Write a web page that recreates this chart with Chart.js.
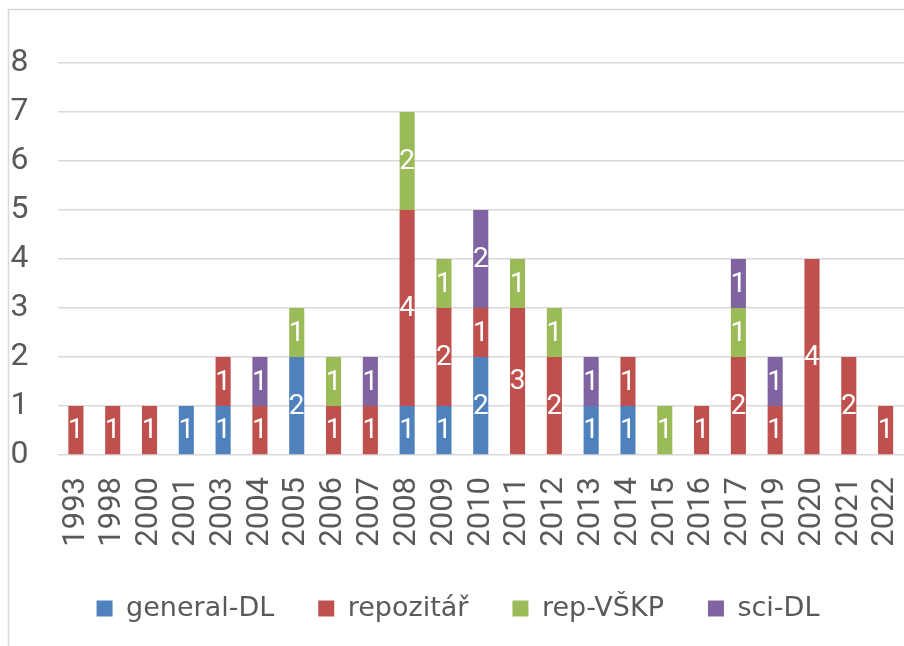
<!DOCTYPE html>
<html>
<head>
<meta charset="utf-8">
<script src="https://cdn.jsdelivr.net/npm/chart.js@4.4.0/dist/chart.umd.min.js"></script>
<style>
  html, body { margin: 0; padding: 0; background: #fff; }
  #wrap { width: 904px; height: 646px; position: relative; }
</style>
</head>
<body>
<div id="wrap"><canvas id="chart"></canvas></div>
<script>
// data
const years = ["1993", "1998", "2000", "2001", "2003", "2004", "2005", "2006", "2007", "2008", "2009", "2010",
  "2011", "2012", "2013", "2014", "2015", "2016", "2017", "2019", "2020", "2021", "2022"];
const generalDL = [0, 0, 0, 1, 1, 0, 2, 0, 0, 1, 1, 2, 0, 0, 1, 1, 0, 0, 0, 0, 0, 0, 0];
const repozitar = [1, 1, 1, 0, 1, 1, 0, 1, 1, 4, 2, 1, 3, 2, 0, 1, 0, 1, 2, 1, 4, 2, 1];
const repVSKP = [0, 0, 0, 0, 0, 0, 1, 1, 0, 2, 1, 0, 1, 1, 0, 0, 1, 0, 1, 0, 0, 0, 0];
const sciDL = [0, 0, 0, 0, 0, 1, 0, 0, 1, 0, 0, 2, 0, 0, 1, 0, 0, 0, 1, 1, 0, 0, 0];
const yTicks = [0, 1, 2, 3, 4, 5, 6, 7, 8];

const tickFont = "Roboto, sans-serif";
const grey = "#595959";

// white numbers in the middle of each segment
const segmentLabels = {
  id: "segmentLabels",
  afterDatasetsDraw(chart) {
    const ctx = chart.ctx;
    ctx.save();
    ctx.fillStyle = "#fff";
    ctx.font = "28px " + tickFont;
    ctx.textAlign = "center";
    ctx.textBaseline = "middle";
    chart.data.datasets.forEach((ds, i) => {
      const meta = chart.getDatasetMeta(i);
      meta.data.forEach((bar, j) => {
        const v = ds.data[j];
        if (!v) return;
        ctx.fillText(String(v), bar.x, (bar.y + bar.base) / 2 + 1);
      });
    });
    ctx.restore();
  }
};

// light frame of the cropped chart
const frame = {
  id: "frame",
  beforeDraw(chart) {
    const ctx = chart.ctx;
    ctx.save();
    ctx.strokeStyle = "#d9d9d9";
    ctx.lineWidth = 1.5;
    ctx.beginPath();
    ctx.moveTo(8.5, 646);
    ctx.lineTo(8.5, 9.5);
    ctx.lineTo(904, 9.5);
    ctx.stroke();
    ctx.restore();
  }
};

const mk = (label, data, color) => ({
  label, data,
  backgroundColor: color,
  borderWidth: 0,
  barPercentage: 0.41,
  categoryPercentage: 1
});

new Chart(document.getElementById("chart"), {
  type: "bar",
  data: {
    labels: years,
    datasets: [
      mk("general-DL", generalDL, "#4F81BD"),
      mk("repozitář", repozitar, "#C0504D"),
      mk("rep-VŠKP", repVSKP, "#9BBB59"),
      mk("sci-DL", sciDL, "#8064A2")
    ]
  },
  options: {
    responsive: true,
    maintainAspectRatio: false,
    animation: false,
    layout: { padding: { left: 8, right: -4, top: 63, bottom: 14 } },
    plugins: {
      tooltip: { enabled: false },
      legend: {
        position: "bottom",
        labels: {
          color: grey,
          font: { family: "'DejaVu Sans', sans-serif", size: 27 },
          boxWidth: 16,
          boxHeight: 16,
          padding: 44
        }
      }
    },
    scales: {
      x: {
        stacked: true,
        afterFit: s => { s.height = 96; s.paddingLeft = 0; s.paddingRight = 0; },
        grid: { display: false, drawTicks: false },
        border: { display: false },
        ticks: {
          color: grey,
          font: { family: tickFont, size: 31 },
          minRotation: 90,
          maxRotation: 90,
          padding: 22,
          autoSkip: false
        }
      },
      y: {
        stacked: true,
        min: 0,
        max: 8,
        afterBuildTicks: s => { s.ticks = yTicks.map(v => ({ value: v })); },
        afterFit: s => { s.width = 49.5; },
        grid: { color: "#d9d9d9", lineWidth: 1.5, drawTicks: false },
        border: { display: false },
        ticks: {
          color: grey,
          font: { family: tickFont, size: 32 },
          padding: 29
        }
      }
    }
  },
  plugins: [segmentLabels, frame]
});
</script>
</body>
</html>
